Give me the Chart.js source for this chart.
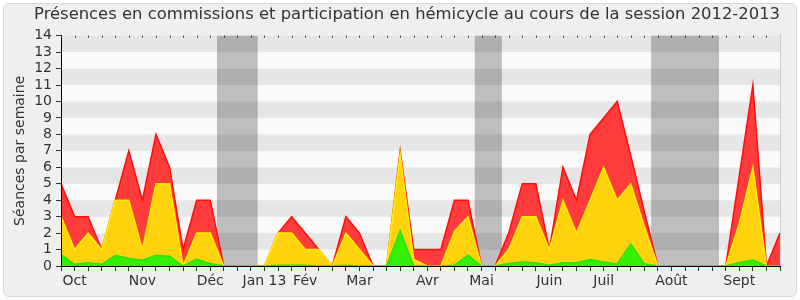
<!DOCTYPE html>
<html lang="fr">
<head>
<meta charset="utf-8">
<title>Présences en commissions et participation en hémicycle</title>
<script src="https://cdn.jsdelivr.net/npm/chart.js@4.4.0/dist/chart.umd.min.js"></script>
<style>
    html, body { margin: 0; padding: 0; background: #ffffff; }
    #wrap { position: relative; width: 800px; height: 300px; }
    #frame {
        position: absolute; left: 3px; top: 3px; width: 792px; height: 292px;
        border: 1px solid #d8d8d8; border-radius: 6px; background: #efefef;
    }
    #presenceChart { position: absolute; left: 0; top: 0; }
</style>
</head>
<body>
<div id="wrap">
    <div id="frame"></div>
    <canvas id="presenceChart" width="800" height="300"></canvas>
</div>
<script>
// semaines de la session (index 0 = fin septembre 2012)
const monthNames = ['Oct', 'Nov', 'Déc', 'Jan 13', 'Fév', 'Mar', 'Avr', 'Mai', 'Juin', 'Juil', 'Août', 'Sept'];
const monthWeeks = [1, 6, 11, 15, 18, 22, 27, 31, 36, 40, 45, 50];

// vacances parlementaires (en semaines)
const vacations = [[11.5, 14.5], [30.5, 32.5], [43.5, 48.5]];

// rouge : total des présences
const presences = [5, 3, 3, 1, 4, 7, 4, 8, 6, 1, 4, 4, 0, 0, 0, 0, 2, 3, 2, 1, 0, 3, 2, 0, 0, 7, 1, 1, 1, 4, 4, 0, 0, 2, 5, 5, 1, 6, 4, 8, 9, 10, 6.7, 3.3, 0, 0, 0, 0, 0, 0, 5.5, 11, 0, 2];
// jaune : présences en commission
const commissions = [3, 1, 2, 1, 4, 4, 1, 5, 5, 0, 2, 2, 0, 0, 0, 0, 2, 2, 1, 1, 0, 2, 1, 0, 0, 6.8, 0.4, 0, 0, 2.1, 3, 0, 0, 1, 3, 3, 1, 4, 2, 4, 6, 4, 5, 2.4, 0, 0, 0, 0, 0, 0, 2.6, 6, 0, 0];
// vert : interventions en hémicycle
const hemicycle = [0.7, 0.1, 0.2, 0.1, 0.65, 0.45, 0.35, 0.65, 0.6, 0, 0.4, 0.15, 0, 0, 0, 0, 0.05, 0.05, 0.05, 0, 0, 0.05, 0, 0, 0, 2.15, 0, 0, 0, 0.05, 0.65, 0, 0, 0.15, 0.25, 0.2, 0.05, 0.2, 0.2, 0.4, 0.25, 0.12, 1.35, 0.13, 0, 0, 0, 0, 0, 0, 0.2, 0.37, 0, 0];

const yMax = 14;
const fontFamily = "'DejaVu Sans', sans-serif";

let presenceChart;

// bandes horizontales + vacances, sous les courbes
const backdropPlugin = {
    id: 'backdrop',
    beforeDraw(chart) {
        const { ctx, chartArea: a, scales: { x, y } } = chart;
        ctx.save();
        for (let v = 0; v < yMax; v++) {
            const top = y.getPixelForValue(v + 1);
            const bottom = y.getPixelForValue(v);
            ctx.fillStyle = v % 2 === 1 ? '#e6e6e6' : '#fafafa';
            ctx.fillRect(a.left, top, a.right - a.left, bottom - top);
        }
        ctx.fillStyle = 'rgba(0, 0, 0, 0.24)';
        vacations.forEach(([from, to]) => {
            const x0 = x.getPixelForValue(from);
            const x1 = x.getPixelForValue(to);
            ctx.fillRect(x0, a.top, x1 - x0, a.bottom - a.top);
        });
        ctx.restore();
    },
    afterDraw(chart) {
        const { ctx, chartArea: a, scales: { x } } = chart;
        ctx.save();
        // petites graduations en haut
        ctx.strokeStyle = '#333';
        ctx.lineWidth = 1;
        x.ticks.forEach((t, i) => {
            const px = Math.round(x.getPixelForTick(i)) + 0.5;
            ctx.beginPath();
            ctx.moveTo(px, a.top);
            ctx.lineTo(px, a.top + 2);
            ctx.stroke();
        });
        ctx.strokeStyle = '#cccccc';
        ctx.beginPath();
        ctx.moveTo(Math.round(a.right) + 0.5, a.top);
        ctx.lineTo(Math.round(a.right) + 0.5, a.bottom);
        ctx.stroke();
        ctx.restore();
    }
};

function makeSeries(label, data, fill, line) {
    return {
        label: label,
        data: data,
        backgroundColor: fill,
        borderColor: line,
        borderWidth: 1.5,
        fill: 'origin',
        tension: 0,
        pointRadius: 0
    };
}

function initChart() {
    const ctx = document.getElementById('presenceChart').getContext('2d');
    const weekLabels = presences.map((_, i) => {
        const k = monthWeeks.indexOf(i);
        return k >= 0 ? monthNames[k] : '';
    });

    presenceChart = new Chart(ctx, {
        type: 'line',
        data: {
            labels: weekLabels,
            datasets: [
                makeSeries('Interventions en hémicycle', hemicycle, '#35ef08', '#2ee000'),
                makeSeries('Présences en commission', commissions, '#ffd20e', '#ffee00'),
                makeSeries('Présences totales', presences, '#ff3b3b', '#ff0f0f')
            ]
        },
        options: {
            responsive: false,
            animation: false,
            layout: { padding: { left: 0, right: 20, top: 0, bottom: 0 } },
            plugins: {
                legend: { display: false },
                tooltip: { enabled: false },
                title: {
                    display: true,
                    align: 'end',
                    text: 'Présences en commissions et participation en hémicycle au cours de la session 2012-2013',
                    color: '#333',
                    font: { family: fontFamily, size: 16.4, weight: 'normal' },
                    padding: { top: 5, bottom: 11 }
                }
            },
            scales: {
                x: {
                    offset: false,
                    grid: { drawOnChartArea: false, tickLength: 5, color: '#333' },
                    border: { color: '#000', z: 1 },
                    ticks: {
                        autoSkip: false,
                        maxRotation: 0,
                        padding: 2,
                        color: '#333',
                        font: { family: fontFamily, size: 14 }
                    },
                    afterFit: (scale) => { scale.height = 34; }
                },
                y: {
                    min: 0,
                    max: yMax,
                    grid: { drawOnChartArea: false, tickLength: 5, color: '#333' },
                    border: { color: '#000', z: 1 },
                    ticks: {
                        stepSize: 1,
                        autoSkip: false,
                        padding: 4,
                        color: '#333',
                        font: { family: fontFamily, size: 14 }
                    },
                    title: {
                        display: true,
                        text: 'Séances par semaine',
                        color: '#333',
                        font: { family: fontFamily, size: 14 },
                        padding: { top: 12, bottom: 0 }
                    },
                    afterFit: (scale) => { scale.width = 61; }
                }
            }
        },
        plugins: [backdropPlugin]
    });
}

document.addEventListener('DOMContentLoaded', () => {
    initChart();
});
</script>
</body>
</html>
